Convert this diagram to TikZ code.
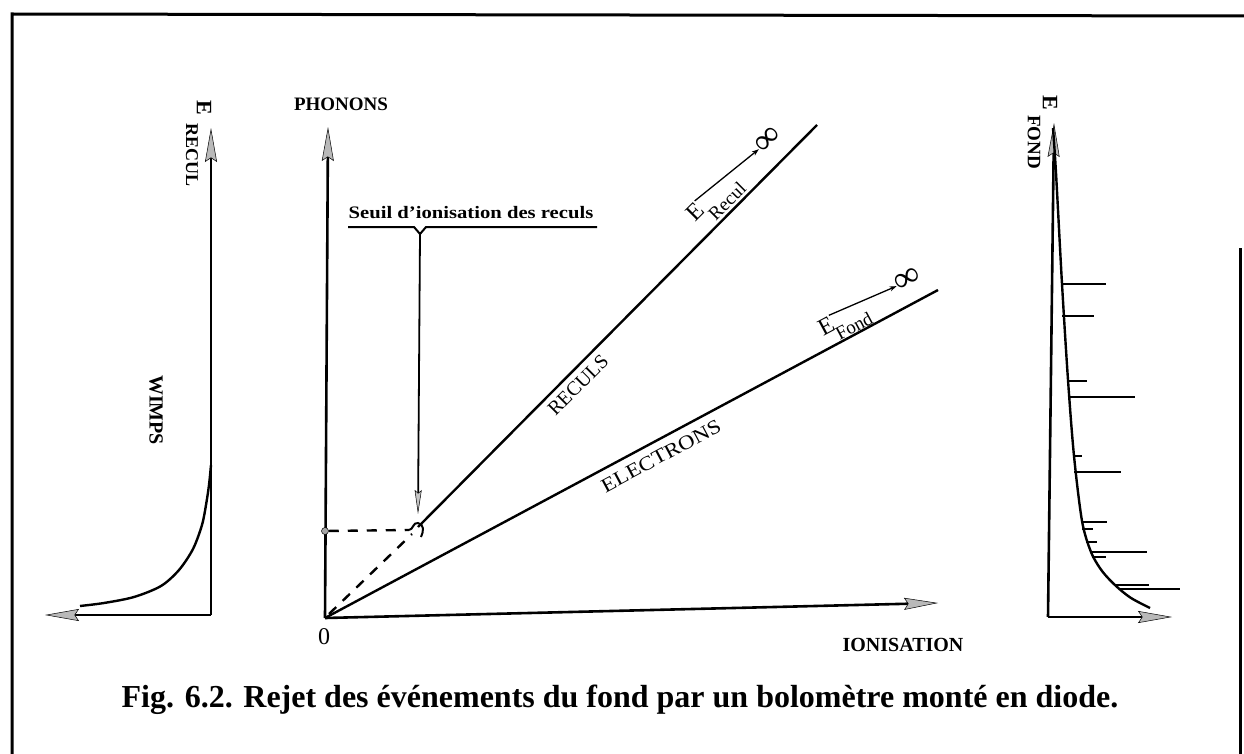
\documentclass[tikz,border=0pt]{standalone}
\usepackage{fontspec}
\setmainfont{Liberation Serif}
\usetikzlibrary{arrows.meta,calc}
\begin{document}
\begin{tikzpicture}[x=1pt,y=-1pt,
  axis/.style={line width=2.6pt},
  lin/.style={line width=2.4pt},
  dashln/.style={line width=2.4pt,dash pattern=on 10pt off 9pt},
  garrow/.style={-{Stealth[length=34pt,width=12pt,inset=4pt,fill=gray!55,line width=0.5pt]}},
  thinarrow/.style={-{Stealth[length=24pt,width=7pt,inset=3pt,fill=gray!45,line width=0.5pt]}},
  smallarrow/.style={-{Stealth[length=7pt,width=5pt]}},
  curv/.style={line width=2.4pt},
  tick/.style={line width=1.8pt},
  lab/.style={inner sep=0pt},
  bigE/.style={lab,font=\fontsize{24}{24}\selectfont},
  subt/.style={lab,font=\fontsize{19}{19}\selectfont},
  infty/.style={lab,font=\fontsize{36}{36}\selectfont\bfseries},
  sidelab/.style={lab,font=\fontsize{19}{19}\selectfont\bfseries,rotate=-90},
  sideE/.style={lab,font=\fontsize{22}{22}\selectfont\bfseries,rotate=-90},
  dotn/.style={circle,fill=gray!70,draw=black,line width=0.5pt,inner sep=0pt,minimum size=7pt}
]
\useasboundingbox (0,0) rectangle (1244,754);

% frame
\draw[line width=3pt] (12,754) -- (12,14) -- (1244,16);
\draw[line width=3pt] (1240,248) -- (1240,754);

% ---------------- centre panel ----------------
\coordinate (O) at (325,618);
\coordinate (phtip) at (328,127);
\coordinate (iotip) at (938,603);
\coordinate (thr) at (418,527);
\coordinate (rEnd) at (817,125);
\coordinate (eEnd) at (938,290);
\coordinate (dashEnd) at (409,530);

\draw[axis,garrow] (O) -- (phtip);
\draw[axis,garrow] (O) -- (iotip);
\node[lab,font=\fontsize{19}{19}\selectfont\bfseries] (phon) at (341,104) {PHONONS};
\node[lab,font=\fontsize{20}{20}\selectfont\bfseries] (ion) at (903,645) {IONISATION};
\node[lab,font=\fontsize{24}{24}\selectfont] (zero) at (324,637) {0};

\draw[lin] (thr) -- (rEnd);
\draw[lin] (O) -- (eEnd);
\draw[dashln] ($(O)+(4,-4)$) -- ($(thr)+(-6,7)$);
\node[dotn] (dot) at (325,531) {};
\draw[dashln] (dot) -- (dashEnd);
\draw[line width=2pt] (dashEnd) .. controls (413,530) and (413,522) .. (418,523)
   .. controls (424,524) and (424,531) .. (421,537);

% threshold label and bracket
\node[lab,font=\fontsize{17.5}{17.5}\selectfont\bfseries,xscale=1.18] (seuil) at (471,213) {Seuil d'ionisation des reculs};
\coordinate (notch) at (420,234);
\coordinate (seuiltip) at (418,514);
\draw[line width=2pt] (348,227) -- (414,227) -- (notch) -- (426,227) -- (597,227);
\draw[line width=1.8pt,thinarrow] (notch) -- (seuiltip);

% line labels
\node[lab,font=\fontsize{20}{20}\selectfont,rotate=45] (recl) at (578,385) {RECULS};
\node[lab,font=\fontsize{20}{20}\selectfont,rotate=28.15,xscale=1.15] (elec) at (661,456) {ELECTRONS};

% E_Recul -> infinity
\node[bigE,rotate=45] (eR) at (695,212) {E};
\node[subt,rotate=45] (eRs) at (727,201) {Recul};
\node[infty,rotate=45] (eRi) at (768,140) {∞};
\draw[line width=1.3pt,smallarrow] (eR.north east) -- (eRi.west);

% E_Fond -> infinity
\node[bigE,rotate=28.15] (eF) at (826,326) {E};
\node[subt,rotate=28.15] (eFs) at (854,326) {Fond};
\node[infty,rotate=28.15] (eFi) at (908,280) {∞};
\draw[line width=1.3pt,smallarrow] (eF.north east) -- (eFi.west);

% ---------------- left panel ----------------
\coordinate (lc) at (211,615);
\coordinate (lvtip) at (211,128);
\coordinate (lhtip) at (45,615);
\draw[axis,garrow] (lc) -- (lvtip);
\draw[axis,garrow] (lc) -- (lhtip);
\draw[curv] plot[smooth] coordinates {(80,606) (104,603) (134,597) (161,586) (179,570) (193,549) (202,525) (206,505) (209,485) (211,465)};
\node[sideE] (lE) at (204,108) {E};
\node[sidelab,font=\fontsize{18}{18}\selectfont\bfseries] (lEs) at (192,155) {RECUL};
\node[sidelab,font=\fontsize{20}{20}\selectfont\bfseries] (wimps) at (156,410) {WIMPS};

% ---------------- right panel ----------------
\coordinate (rc) at (1048,617);
\coordinate (rvtip) at (1054,123);
\coordinate (rhtip) at (1172,617);
\draw[axis,garrow] (rc) -- (rvtip);
\draw[axis,garrow] (rc) -- (rhtip);
\draw[curv] plot[smooth] coordinates {(1053,128) (1056,173) (1062,284) (1068,380) (1074,456) (1082,521) (1091,552) (1102,571) (1116,586) (1131,598) (1150,608)};
\foreach \y/\a/\b in {284/1061/1106, 316/1062/1094, 381/1067/1087, 397/1068/1135,
  456/1073/1082, 472/1074/1121, 522/1081/1107, 529/1082/1093, 542/1086/1097,
  552/1090/1147, 557/1092/1106, 585/1114/1149, 589/1119/1180}
  \draw[tick] (\a,\y) -- (\b,\y);
\node[sideE] (rE) at (1050,103) {E};
\node[sidelab] (rEs) at (1034,142) {FOND};

% caption
\node[lab,font=\fontsize{32}{32}\selectfont\bfseries] (cap) at (620,700)
  {Fig. 6.2. Rejet des événements du fond par un bolomètre monté en diode.};
\end{tikzpicture}
\end{document}
